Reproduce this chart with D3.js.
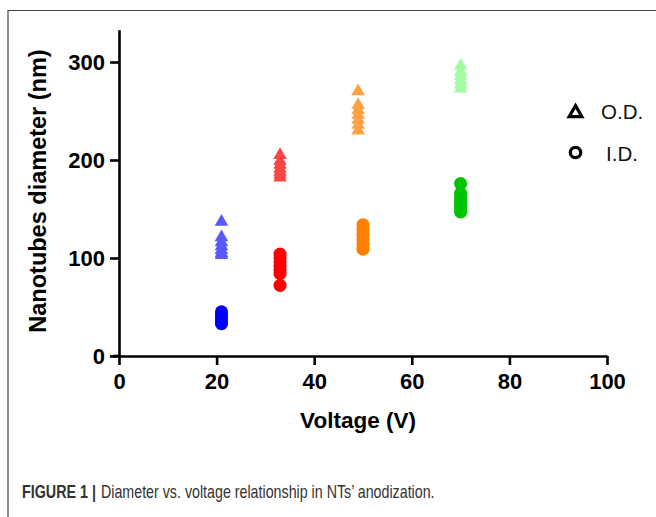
<!DOCTYPE html>
<html><head><meta charset="utf-8">
<script src="https://cdn.jsdelivr.net/npm/d3@7"></script>
<style>
html,body{margin:0;padding:0;background:#fff;}
svg{display:block;}
</style></head>
<body>
<script>
// ---- data ----
const xTicks = [0, 20, 40, 60, 80, 100];
const yTicks = [0, 100, 200, 300];
const groupVoltages = [21, 33, 49, 70];
const idVoltages = [21, 33, 50, 70];
const odBlue = [137, 121, 116, 112, 108, 105, 103];
const odRed = [205, 199, 195, 191, 188, 185, 182];
const odOrange = [270, 256, 251, 246, 241, 236, 230];
const odGreen = [296, 290, 286, 281, 277, 273];
const idBlue = [45, 42, 39, 36, 33];
const idRed = [104, 100, 96, 92, 88, 84, 72];
const idOrange = [134, 129, 124, 119, 114, 109];
const idGreen = [176, 166, 161, 157, 153, 149, 147];
const odColors = ["#5858fb", "#fd4545", "#fea044", "#a4fba4"];
const idColors = ["#0000fb", "#fd0000", "#fd8000", "#00c400"];
const legendLabels = ["O.D.", "I.D."];
const xTitle = "Voltage (V)";
const yTitle = "Nanotubes diameter (nm)";
const captionBold = "FIGURE 1 |";
const captionText = "Diameter vs. voltage relationship in NTs’ anodization.";

const W = 656, H = 517;
const svg = d3.select("body").append("svg").attr("width", W).attr("height", H);

// frame lines
svg.append("path").attr("d", `M8,517 V10.5 H656`).attr("fill", "none")
  .attr("stroke", "#444").attr("stroke-width", 1.2);

const x = d3.scaleLinear().domain([0, 100]).range([119, 607]);
const y = d3.scaleLinear().domain([0, 300]).range([356, 62]);
const yMax = 333;

const font = "'Liberation Sans', Arial, Helvetica, sans-serif";

// x axis
const gx = svg.append("g").attr("transform", `translate(0,${y(0)})`)
  .call(d3.axisBottom(x).tickValues(xTicks).tickSize(9).tickSizeOuter(0).tickPadding(8));
// y axis
const yAx = y.copy().domain([0, yMax]).range([y(0), y(yMax)]);
const gy = svg.append("g").attr("transform", `translate(${x(0)},0)`)
  .call(d3.axisLeft(yAx).tickValues(yTicks).tickSize(9).tickSizeOuter(0).tickPadding(5));
[gx, gy].forEach(g => {
  g.select(".domain").attr("stroke", "#000").attr("stroke-width", 2.6);
  g.selectAll(".tick line").attr("stroke", "#000").attr("stroke-width", 2.6);
  g.selectAll(".tick text").attr("fill", "#000").style("font-family", font)
    .style("font-weight", "bold").style("font-size", "22px");
});
svg.append("line").attr("x1", x(0) - 6).attr("x2", x(0)).attr("y1", y(0)).attr("y2", y(0))
  .attr("stroke", "#000").attr("stroke-width", 2.6);

// titles
svg.append("text").attr("x", (x(0) + x(100)) / 2 - 5).attr("y", 428).attr("text-anchor", "middle")
  .style("font-family", font).style("font-weight", "bold").style("font-size", "22.5px").text(xTitle);
svg.append("text").attr("transform", `translate(46,191) rotate(-90)`).attr("text-anchor", "middle")
  .style("font-family", font).style("font-weight", "bold").style("font-size", "23.5px").text(yTitle);

// data markers
const odSeries = [odBlue, odRed, odOrange, odGreen];
const idSeries = [idBlue, idRed, idOrange, idGreen];
const tri = d3.symbol().type(d3.symbolTriangle).size(80);
const circ = d3.symbol().type(d3.symbolCircle).size(135);

idSeries.forEach((vals, i) => {
  svg.append("g").selectAll("path").data(vals).join("path")
    .attr("d", circ).attr("transform", d => `translate(${x(idVoltages[i])},${y(d)})`)
    .attr("fill", idColors[i]);
});
odSeries.forEach((vals, i) => {
  svg.append("g").selectAll("path").data(vals).join("path")
    .attr("d", tri).attr("transform", d => `translate(${x(groupVoltages[i])},${y(d)})`)
    .attr("fill", odColors[i]);
});

// legend
const leg = svg.append("g");
leg.append("path").attr("d", d3.symbol().type(d3.symbolTriangle).size(70))
  .attr("transform", "translate(575.5,113)").attr("fill", "none").attr("stroke", "#000")
  .attr("stroke-width", 3.2).attr("stroke-linejoin", "miter");
leg.append("circle").attr("cx", 575.5).attr("cy", 152.5).attr("r", 5.2)
  .attr("fill", "none").attr("stroke", "#000").attr("stroke-width", 3.3);
leg.append("text").attr("x", 601).attr("y", 118.5).style("font-family", font)
  .style("font-size", "20.5px").attr("fill", "#111").text(legendLabels[0]);
leg.append("text").attr("x", 606).attr("y", 160.5).style("font-family", font)
  .style("font-size", "20.5px").attr("fill", "#111").text(legendLabels[1]);

// caption (horizontally condensed via scale transform)
function condensed(txt, x0, targetW, bold) {
  const t = svg.append("text").attr("x", 0).attr("y", 0)
    .style("font-family", font).style("font-weight", bold ? "bold" : "normal")
    .style("font-size", "18px").attr("fill", "#333").text(txt);
  const w = t.node().getComputedTextLength();
  t.attr("transform", `translate(${x0},498) scale(${targetW / w},1)`);
}
condensed(captionBold, 22, 74, true);
condensed(captionText, 101, 334, false);
</script>
</body></html>
